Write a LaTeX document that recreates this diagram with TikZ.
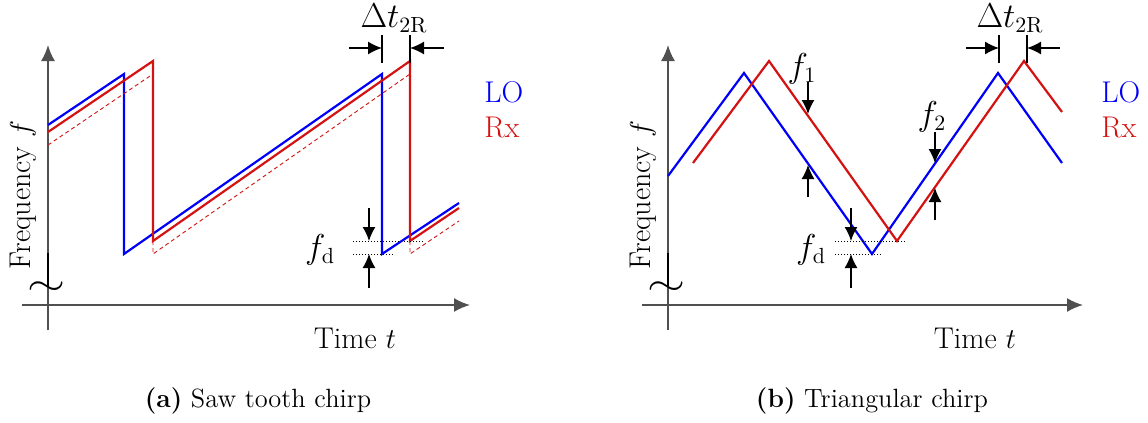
\documentclass[tikz,border=0pt]{standalone}
\usepackage{amsmath}
\definecolor{loblue}{RGB}{0,0,250}
\definecolor{rxred}{RGB}{212,18,18}
\definecolor{axisgray}{RGB}{80,80,80}
\usetikzlibrary{arrows.meta}

\begin{document}
\begin{tikzpicture}[x=0.5pt,y=-0.5pt,
    lo/.style={loblue, line width=1.1pt, line join=miter},
    rx/.style={rxred, line width=1.1pt, line join=miter},
    rxdelay/.style={rxred, line width=0.45pt, dash pattern=on 2pt off 1.5pt},
    faxis/.style={axisgray, line width=0.9pt, -{Latex[length=8pt,width=7pt]}},
    dimarrow/.style={black, line width=0.7pt, -{Latex[length=7pt,width=6.5pt]}},
    lvl/.style={black, line width=0.5pt, dash pattern=on 0.5pt off 1pt},
    tick/.style={black, line width=0.6pt},
    axbreak/.style={font=\fontsize{15}{18}\selectfont, inner sep=0pt, xscale=1.7, yscale=1.3},
    lbl/.style={font=\fontsize{15}{18}\selectfont, inner sep=0pt},
    mlbl/.style={font=\fontsize{16}{19}\selectfont, inner sep=0pt},
    capt/.style={font=\fontsize{13.2}{16}\selectfont, inner sep=0pt}]
  \useasboundingbox (0,0) rectangle (1148,423);

  % (a) saw tooth chirp
  \coordinate (oa) at (48,305);
  \draw[faxis] (48,330) -- (48,45);
  \draw[faxis] (22,305) -- (470,305);
  \draw[black, line width=1.2pt] (48,253) -- (48,286);
  \node[axbreak] (breaka) at (47,289) {$\sim$};
  \node[lbl, rotate=90] (freqa) at (23,195) {Frequency $f$};
  \node[lbl] (timea) at (355,338) {Time $t$};

  \draw[lo] (48,125) -- (124,74) -- (124,254) -- (382,74) -- (382,254) -- (459,203);
  \draw[rx] (48,132) -- (153,61) -- (153,241) -- (410,61) -- (410,241) -- (459,208);
  \draw[rxdelay] (48,145) -- (153,74);
  \draw[rxdelay] (153,241) -- (153,254) -- (410,74);
  \draw[rxdelay] (410,241) -- (410,254) -- (459,221);

  % f_d
  \draw[lvl] (353,241) -- (425,241);
  \draw[lvl] (353,254) -- (393,254);
  \coordinate (fdta) at (369,241);
  \coordinate (fdba) at (369,254);
  \draw[dimarrow] (369,208) -- (fdta);
  \draw[dimarrow] (369,288) -- (fdba);
  \node[mlbl] (fda) at (320,250) {$f_\mathrm{d}$};

  % delta t
  \draw[tick] (382,35) -- (382,63);
  \draw[tick] (410,35) -- (410,63);
  \coordinate (dtla) at (382,48);
  \coordinate (dtra) at (410,48);
  \draw[dimarrow] (349,48) -- (dtla);
  \draw[dimarrow] (444,48) -- (dtra);
  \node[mlbl] (dta) at (394,18) {$\Delta t_\mathrm{2R}$};

  \node[lbl, text=loblue, anchor=west] (loa) at (484,92) {LO};
  \node[lbl, text=rxred, anchor=west] (rxa) at (484,127) {Rx};
  \node[capt] (capa) at (258,401) {\textbf{(a)} Saw tooth chirp};

  % (b) triangular chirp
  \coordinate (ob) at (668,305);
  \draw[faxis] (668,330) -- (668,45);
  \draw[faxis] (642,305) -- (1083,305);
  \draw[black, line width=1.2pt] (668,253) -- (668,286);
  \node[axbreak] (breakb) at (667,289) {$\sim$};
  \node[lbl, rotate=90] (freqb) at (643,195) {Frequency $f$};
  \node[lbl] (timeb) at (975,338) {Time $t$};

  \draw[lo] (668,176) -- (744,73) -- (872,254) -- (998,73) -- (1062,163);
  \draw[rx] (693,163) -- (769,61) -- (897,241) -- (1024,61) -- (1062,112);

  % f_1, f_2
  \coordinate (f1t) at (808,114);
  \coordinate (f1b) at (808,165);
  \draw[dimarrow] (808,82) -- (f1t);
  \draw[dimarrow] (808,197) -- (f1b);
  \node[mlbl] (f1) at (802,69) {$f_1$};
  \coordinate (f2t) at (935,163);
  \coordinate (f2b) at (935,188);
  \draw[dimarrow] (935,132) -- (f2t);
  \draw[dimarrow] (935,220) -- (f2b);
  \node[mlbl] (f2) at (932,117) {$f_2$};

  % f_d
  \draw[lvl] (835,241) -- (906,241);
  \draw[lvl] (835,254) -- (882,254);
  \coordinate (fdtb) at (851,241);
  \coordinate (fdbb) at (851,254);
  \draw[dimarrow] (851,208) -- (fdtb);
  \draw[dimarrow] (851,288) -- (fdbb);
  \node[mlbl] (fdb) at (811,250) {$f_\mathrm{d}$};

  % delta t
  \draw[tick] (999,35) -- (999,63);
  \draw[tick] (1027,35) -- (1027,63);
  \coordinate (dtlb) at (999,48);
  \coordinate (dtrb) at (1027,48);
  \draw[dimarrow] (966,48) -- (dtlb);
  \draw[dimarrow] (1060,48) -- (dtrb);
  \node[mlbl] (dtb) at (1010,18) {$\Delta t_\mathrm{2R}$};

  \node[lbl, text=loblue, anchor=west] (lob) at (1101,92) {LO};
  \node[lbl, text=rxred, anchor=west] (rxb) at (1101,127) {Rx};
  \node[capt] (capb) at (872,401) {\textbf{(b)} Triangular chirp};

\end{tikzpicture}
\end{document}
